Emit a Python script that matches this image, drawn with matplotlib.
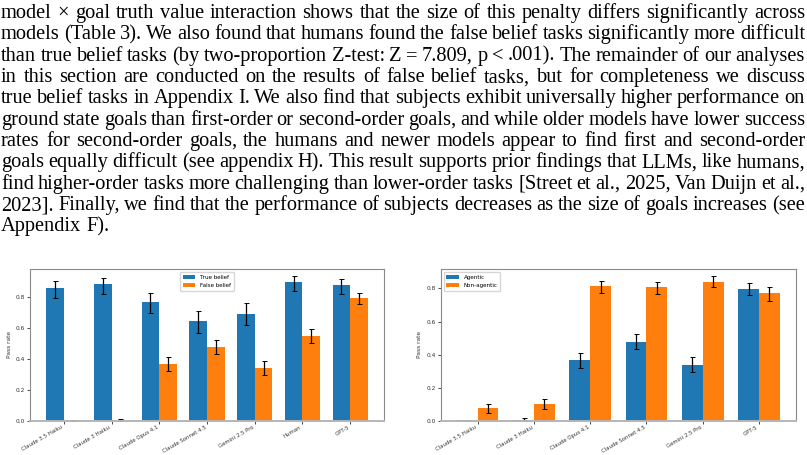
import numpy as np
import matplotlib
matplotlib.use("Agg")
import matplotlib.pyplot as plt

# текст абзаца над графиками (переносы строк как в оригинале)
paragraph_lines = [
    "model \u00d7 goal truth value interaction shows that the size of this penalty differs significantly across",
    "models (Table 3). We also found that humans found the false belief tasks significantly more difficult",
    "than true belief tasks (by two-proportion Z-test: Z = 7.809, p < .001). The remainder of our analyses",
    "in this section are conducted on the results of false belief tasks, but for completeness we discuss",
    "true belief tasks in Appendix I. We also find that subjects exhibit universally higher performance on",
    "ground state goals than first-order or second-order goals, and while older models have lower success",
    "rates for second-order goals, the humans and newer models appear to find first and second-order",
    "goals equally difficult (see appendix H). This result supports prior findings that LLMs, like humans,",
    "find higher-order tasks more challenging than lower-order tasks [Street et al., 2025, Van Duijn et al.,",
    "2023]. Finally, we find that the performance of subjects decreases as the size of goals increases (see",
    "Appendix F).",
]

# левый график: true / false belief
models_tf = ['Claude 3.5 Haiku', 'Claude 3 Haiku', 'Claude Opus 4.1', 'Claude Sonnet 4.5',
             'Gemini 2.5 Pro', 'Human', 'GPT-5']
true_belief = [0.857, 0.882, 0.768, 0.643, 0.693, 0.895, 0.876]
true_lo = [0.790, 0.822, 0.699, 0.564, 0.619, 0.837, 0.817]
true_hi = [0.903, 0.925, 0.828, 0.712, 0.761, 0.934, 0.919]
false_belief = [0.002, 0.003, 0.366, 0.474, 0.338, 0.548, 0.796]
false_lo = [0.000, 0.000, 0.321, 0.428, 0.293, 0.501, 0.757]
false_hi = [0.007, 0.014, 0.409, 0.520, 0.383, 0.594, 0.828]

# правый график: agentic / non-agentic
models_ag = ['Claude 3.5 Haiku', 'Claude 3 Haiku', 'Claude Opus 4.1', 'Claude Sonnet 4.5',
             'Gemini 2.5 Pro', 'GPT-5']
agentic = [0.002, 0.003, 0.365, 0.477, 0.337, 0.796]
ag_lo = [0.000, 0.000, 0.320, 0.431, 0.294, 0.758]
ag_hi = [0.007, 0.015, 0.411, 0.524, 0.383, 0.830]
non_agentic = [0.075, 0.099, 0.812, 0.808, 0.842, 0.770]
na_lo = [0.048, 0.073, 0.770, 0.767, 0.806, 0.725]
na_hi = [0.103, 0.131, 0.846, 0.842, 0.874, 0.806]

W, H = 807, 455
fig = plt.figure(figsize=(W / 100, H / 100), dpi=100)
renderer = fig.canvas.get_renderer()


def text_width(s, font):
    t = fig.text(0, 0, s, **font)
    w = t.get_window_extent(renderer).width
    t.remove()
    return w


def justify_paragraph(lines, x0, x1, y_first, line_step):
    """Выравнивание по ширине: слова ставятся по отдельности"""
    # подбираем кегль так, чтобы строки в среднем занимали всю ширину
    probe = dict(family='Liberation Serif', fontsize=13)
    natural = [text_width(l, probe) for l in lines[:-1]]
    fontsize = 13 * (x1 - x0) / np.mean(natural)
    font = dict(family='Liberation Serif', fontsize=fontsize, color='black')
    sp_w = text_width('a a', font) - text_width('aa', font)
    for i, line in enumerate(lines):
        words = line.split(' ')
        y = y_first + i * line_step
        widths = [text_width(w, font) for w in words]
        if i == len(lines) - 1:
            gap = sp_w
        else:
            gap = (x1 - x0 - sum(widths)) / (len(words) - 1)
        x = x0
        for w, wd in zip(words, widths):
            fig.text(x / W, 1 - y / H, w, ha='left', va='baseline', **font)
            x += wd + gap


justify_paragraph(paragraph_lines, 1, 805, 18, 21.35)


def grouped_bars(ax, labels, a, a_lo, a_hi, b, b_lo, b_hi, names, legend_loc):
    x = np.arange(len(labels))
    width = 0.37
    a = np.array(a)
    b = np.array(b)
    err_a = [a - np.array(a_lo), np.array(a_hi) - a]
    err_b = [b - np.array(b_lo), np.array(b_hi) - b]
    ax.bar(x - width / 2, a, width, yerr=err_a, capsize=1.8, color='#1f77b4', label=names[0],
           error_kw=dict(elinewidth=0.9, capthick=0.7, ecolor='black'))
    ax.bar(x + width / 2, b, width, yerr=err_b, capsize=1.8, color='#ff7f0e', label=names[1],
           error_kw=dict(elinewidth=0.9, capthick=0.7, ecolor='black'))
    ax.set_xticks(x)
    ax.set_xticklabels(labels, rotation=30, ha='right', fontsize=3.9, color='#333333')
    ax.tick_params(axis='y', labelsize=4.2, labelcolor='#333333', length=2, width=0.5, pad=1.5)
    ax.tick_params(axis='x', length=2, width=0.5, pad=1.0)
    ax.set_ylabel('Pass rate', fontsize=4.2, color='#333333', labelpad=3)
    for name, sp in ax.spines.items():
        sp.set_color('#8a8a8a')
        sp.set_linewidth(0.8)
    ax.spines['bottom'].set_color('#b5b5b5')
    ax.spines['bottom'].set_linewidth(1.4)
    ax.legend(loc=legend_loc, fontsize=4.1, handlelength=2.2, handleheight=0.8,
              borderpad=0.5, labelspacing=0.5, framealpha=0.8)


ax1 = fig.add_axes([30 / W, 1 - 420.7 / H, (384 - 30) / W, (420.7 - 269) / H])
grouped_bars(ax1, models_tf, true_belief, true_lo, true_hi, false_belief, false_lo, false_hi,
             ['True belief', 'False belief'], 'upper center')

ax2 = fig.add_axes([440.7 / W, 1 - 420.7 / H, (796 - 440.7) / W, (420.7 - 269) / H])
grouped_bars(ax2, models_ag, agentic, ag_lo, ag_hi, non_agentic, na_lo, na_hi,
             ['Agentic', 'Non-agentic'], 'upper left')

fig.savefig('out.png', dpi=100)
